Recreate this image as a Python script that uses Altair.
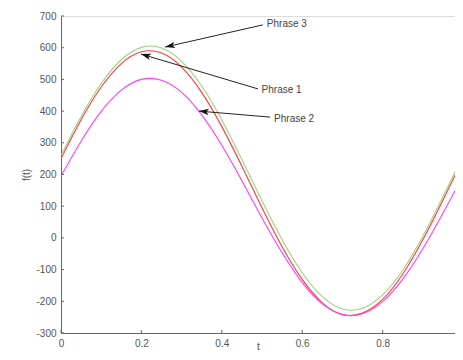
import altair as alt
import pandas as pd

# ---- data ----
t = [0.00, 0.05, 0.10, 0.15, 0.20, 0.25, 0.30, 0.35, 0.40, 0.45, 0.50,
     0.55, 0.60, 0.65, 0.70, 0.75, 0.80, 0.85, 0.90, 0.95, 1.00]
phrase1 = [250, 373, 476, 550, 587, 583, 539, 459, 351, 226, 95,
           -28, -131, -205, -242, -237, -194, -114, -6, 119, 250]
phrase2 = [195, 305, 399, 466, 500, 497, 459, 388, 292, 180, 63,
           -47, -141, -208, -242, -239, -201, -130, -34, 78, 195]
phrase3 = [260, 383, 487, 562, 601, 599, 557, 479, 372, 247, 117,
           -6, -110, -185, -224, -222, -180, -102, 5, 130, 260]
series_names = ["Phrase 1", "Phrase 2", "Phrase 3"]
series_colors = ["#ff3a3a", "#ff3cff", "#9fcf7f"]

x_ticks = [0, 0.2, 0.4, 0.6, 0.8, 1.0]
y_ticks = [-300, -200, -100, 0, 100, 200, 300, 400, 500, 600, 700]

ann_text = ["Phrase 3", "Phrase 1", "Phrase 2"]
ann_text_t = [0.512, 0.499, 0.530]
ann_text_v = [675, 467, 375]
ann_tail_t = [0.502, 0.490, 0.520]
ann_tail_v = [672, 470, 381]
ann_head_t = [0.259, 0.199, 0.343]
ann_head_v = [602, 580, 400]
ann_angle = [257, 287, 275]

# ---- tables ----
rows = []
for name, vals in zip(series_names, [phrase1, phrase2, phrase3]):
    for tt, v in zip(t, vals):
        rows.append({"t": tt, "f": v, "series": name})
df = pd.DataFrame(rows)

ann = pd.DataFrame({
    "text": ann_text, "tx": ann_text_t, "ty": ann_text_v,
    "x1": ann_tail_t, "y1": ann_tail_v, "x2": ann_head_t, "y2": ann_head_v,
    "angle": ann_angle,
})

FONT = "Liberation Sans"
GREY = "#666666"
LABEL = "#555555"

xscale = alt.Scale(domain=[0, 0.98], nice=False, zero=False)
yscale = alt.Scale(domain=[-300, 700], nice=False, zero=False)


def x_axis():
    return alt.Axis(values=x_ticks, format="~g", title="t", tickSize=0,
                    labelPadding=5, titlePadding=-7, grid=False,
                    domainColor=GREY, labelColor=LABEL, titleColor=LABEL,
                    labelFont=FONT, titleFont=FONT, labelFontSize=10,
                    titleFontSize=10, titleFontWeight="normal", labelFlush=False,
                    labelOverlap=False)


def y_axis():
    return alt.Axis(values=y_ticks, title="f(t)", tickSize=0,
                    labelExpr="toString(datum.value)",
                    labelPadding=5, titlePadding=4, grid=False,
                    domainColor=GREY, labelColor=LABEL, titleColor=LABEL,
                    labelFont=FONT, titleFont=FONT, labelFontSize=10,
                    titleFontSize=10, titleFontWeight="normal",
                    labelOverlap=False)


def X(field):
    return alt.X(field, type="quantitative", scale=xscale, axis=x_axis())


def Y(field):
    return alt.Y(field, type="quantitative", scale=yscale, axis=y_axis())


lines = alt.Chart(df).mark_line(strokeWidth=1.1, interpolate="natural", clip=True).encode(
    x=X("t"),
    y=Y("f"),
    color=alt.Color("series:N", scale=alt.Scale(domain=series_names, range=series_colors),
                    legend=None),
    order=alt.Order("t:Q"),
)

ytick_df = pd.DataFrame({"v": y_ticks})
xtick_df = pd.DataFrame({"t": x_ticks[:-1]})
yticks = alt.Chart(ytick_df).mark_rule(color=GREY, strokeWidth=1).encode(
    y=Y("v"),
    x=alt.value(0), x2=alt.value(3),
)
xticks = alt.Chart(xtick_df).mark_rule(color=GREY, strokeWidth=1).encode(
    x=X("t"),
    y=alt.value(317), y2=alt.value(314),
)

arrows = alt.Chart(ann).mark_rule(color="#222222", strokeWidth=1).encode(
    x=X("x1"), y=Y("y1"),
    x2="x2:Q", y2="y2:Q",
)
heads = alt.Chart(ann).mark_point(
    shape="M0,0L-0.65,2L0,1.5L0.65,2Z", filled=True, color="#111111",
    size=100, opacity=1, strokeWidth=0,
).encode(
    x=X("x2"), y=Y("y2"),
    angle=alt.Angle("angle:Q", scale=None),
)
labels = alt.Chart(ann).mark_text(align="left", baseline="middle", font=FONT,
                                  fontSize=10, color="#444444").encode(
    x=X("tx"), y=Y("ty"),
    text="text:N",
)

chart = alt.layer(lines, yticks, xticks, arrows, heads, labels).properties(
    width=394, height=317,
    autosize=alt.AutoSizeParams(type="none"),
    padding={"left": 53, "top": 8, "right": 0, "bottom": 19},
).configure_view(stroke=None).configure(background="white")

chart.save("out.html", embed_options={"renderer": "svg", "actions": False})
